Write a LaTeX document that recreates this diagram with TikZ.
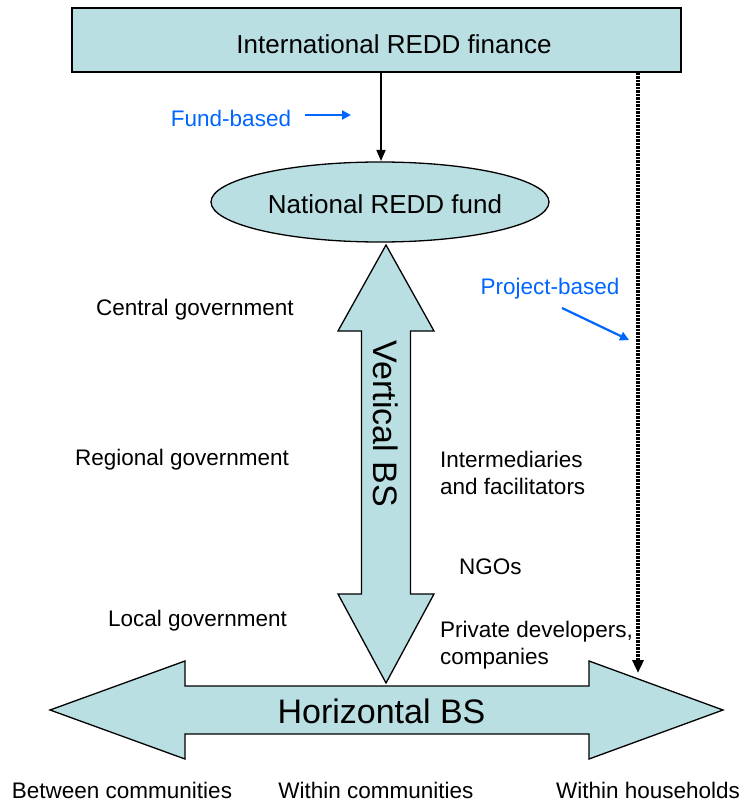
\documentclass[tikz,border=0pt]{standalone}
\usepackage{fontspec}
\setmainfont{Liberation Sans}
\usetikzlibrary{arrows.meta,shapes.geometric}
\definecolor{fillblue}{RGB}{186,223,227}
\definecolor{txtblue}{RGB}{0,102,255}
\begin{document}
\begin{tikzpicture}[x=1pt,y=-1pt,
  lbl/.style={font=\fontsize{22.5}{27}\selectfont, inner sep=0pt},
  bluelbl/.style={lbl, text=txtblue},
  bigtxt/.style={font=\fontsize{26}{30}\selectfont, inner sep=0pt},
  hugetxt/.style={font=\fontsize{34}{38}\selectfont, inner sep=0pt},
  shapefill/.style={fill=fillblue, draw=black, line width=1.3pt, line join=miter},
  bluearrow/.style={txtblue, line width=2.2pt, -{Triangle[length=9pt,width=9pt]}},
  blackarrow/.style={black, line width=1.6pt, -{Triangle[length=11pt,width=9pt]}},
  dotline/.style={black, line width=4pt, dash pattern=on 2.5pt off 1pt, -{Triangle[length=13pt,width=11pt]}}
]
\useasboundingbox (0,0) rectangle (743,802);

% horizontal double arrow
\draw[shapefill] (50,710) -- (185,661) -- (185,686) -- (589,686) -- (589,661) -- (723,710)
  -- (589,759) -- (589,734) -- (185,734) -- (185,759) -- cycle;
\node[hugetxt] (hbs) at (381.5,711) {Horizontal BS};

% vertical double arrow
\draw[shapefill] (386,245) -- (434,331) -- (410.5,331) -- (410.5,594) -- (434,594) -- (386,683)
  -- (338,594) -- (361.5,594) -- (361.5,331) -- (338,331) -- cycle;
\node[hugetxt, rotate=-90] (vbs) at (386,424) {Vertical BS};

% national fund ellipse
\node[ellipse, shapefill, minimum width=338pt, minimum height=80pt, inner sep=0pt] (fund) at (380,202) {};
\node[bigtxt] (fundtxt) at (385,204) {National REDD fund};

% international box
\node[rectangle, fill=fillblue, draw=black, line width=2pt, minimum width=609pt, minimum height=64pt, inner sep=0pt] (intl) at (376.5,40) {};
\node[bigtxt] (intltxt) at (394,44) {International REDD finance};

% connectors
\coordinate (fundtop) at (381,161);
\draw[blackarrow] (intl.south -| fundtop) -- (fundtop);

\coordinate (dend) at (638,673);
\draw[dotline] (intl.south -| dend) -- (dend);

\node[bluelbl] (fb) at (231,118) {Fund-based};
\coordinate (fbend) at (351,115);
\coordinate (fbstart) at (305,115);
\draw[bluearrow] (fbstart) -- (fbend);

\node[bluelbl] (pb) at (550,289) {Project-based};
\coordinate (pbstart) at (562,308);
\coordinate (pbend) at (629,340);
\draw[bluearrow] (pbstart) -- (pbend);

% labels
\node[lbl] (cg) at (195,310) {Central government};
\node[lbl] (rg) at (182,460) {Regional government};
\node[lbl] (lg) at (197.5,621) {Local government};
\node[lbl, anchor=west, align=left] (inter) at (440,473) {Intermediaries\\and facilitators};
\node[lbl, anchor=west] (ngo) at (459,567) {NGOs};
\node[lbl, anchor=west, align=left] (priv) at (440,645) {Private developers,\\companies};
\node[lbl] (bc) at (122,790) {Between communities};
\node[lbl] (wc) at (376,790) {Within communities};
\node[lbl] (wh) at (648,790) {Within households};
\end{tikzpicture}
\end{document}
